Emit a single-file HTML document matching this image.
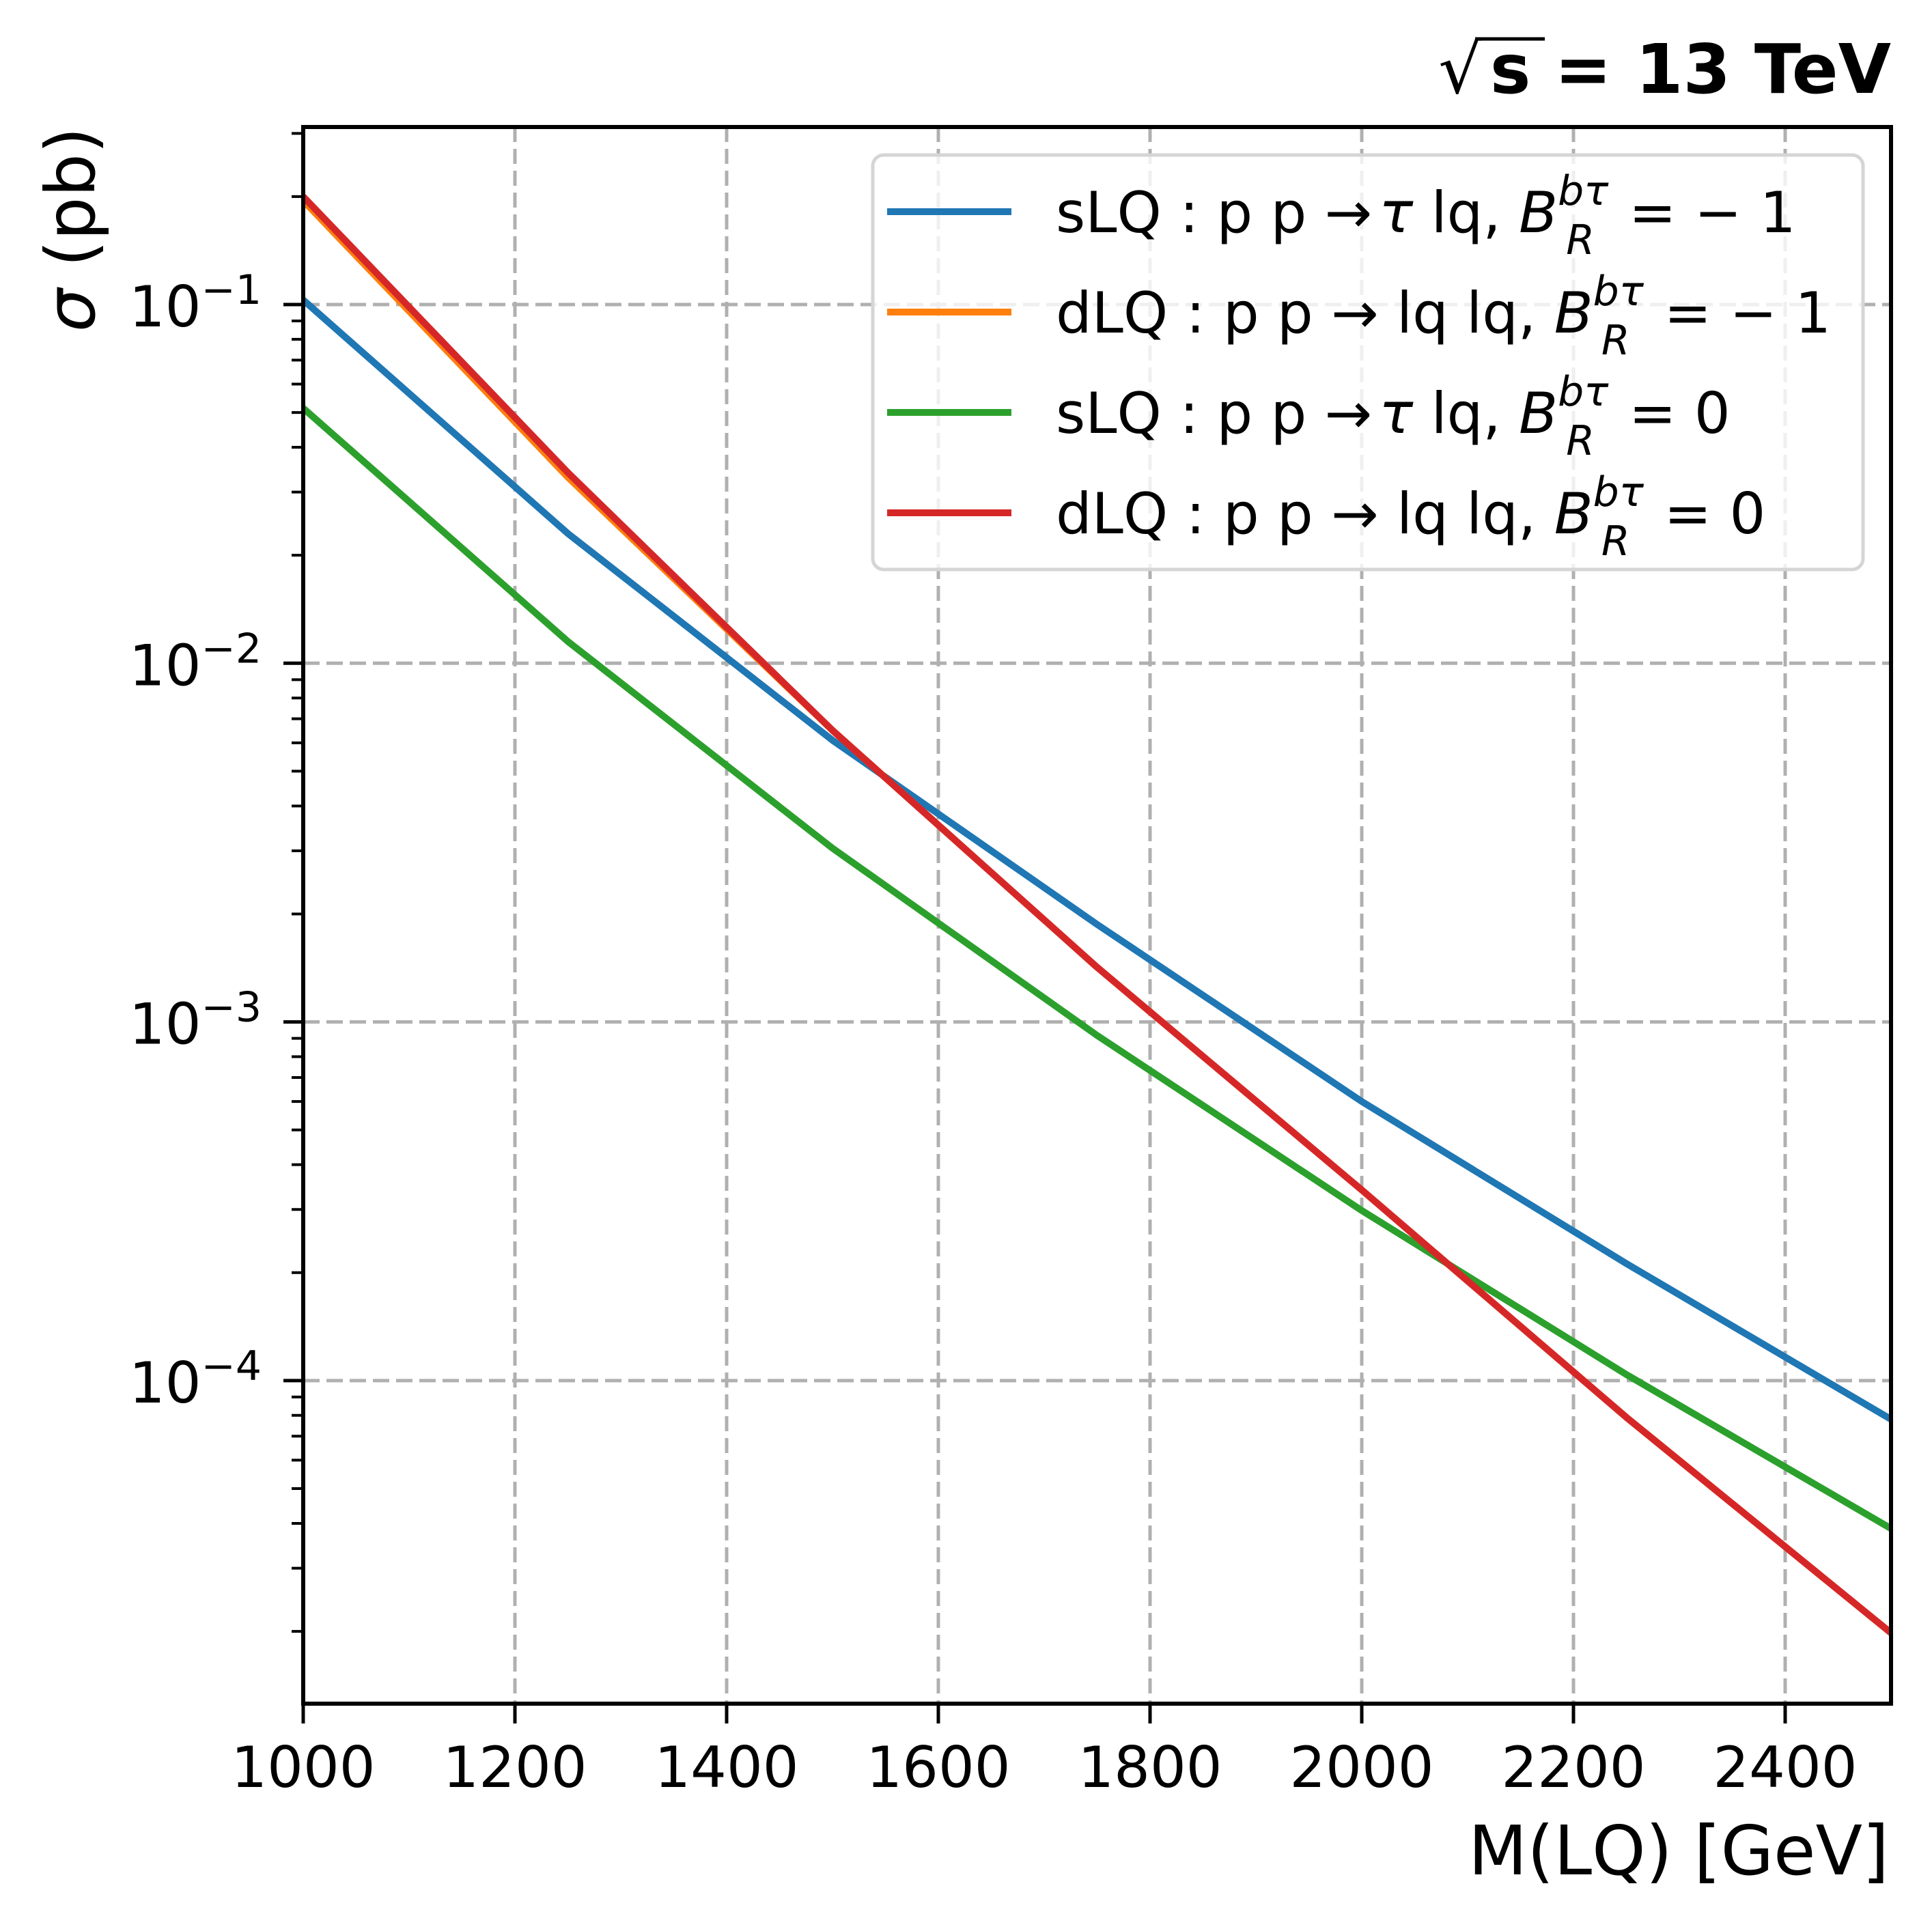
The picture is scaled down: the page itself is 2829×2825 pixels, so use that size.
<!DOCTYPE html>
<html><head><meta charset="utf-8"><style>
html,body{margin:0;padding:0;background:#fff;}
svg{display:block;font-family:"DejaVu Sans","Liberation Sans",sans-serif;}
</style></head><body>
<svg id="chart" width="2829" height="2825" viewBox="0 0 2829 2825" xmlns="http://www.w3.org/2000/svg">
<g id="grid"></g>
<g id="series"></g>
<g id="axes"></g>
<g id="legend">
  <rect x="1278" y="227" width="1450" height="607" rx="16" fill="#fff" fill-opacity="0.8" stroke="#d5d5d5" stroke-width="5"/>
</g>
<text x="2769" y="136" text-anchor="end" font-size="100" font-weight="bold"><tspan font-weight="normal">√</tspan><tspan dx="12">s</tspan> = 13 TeV</text>
<line x1="2160" y1="57" x2="2262" y2="57" stroke="#000" stroke-width="5"/>
<text x="2766" y="2745" text-anchor="end" font-size="100">M(LQ) [GeV]</text>
<text transform="translate(138,186) rotate(-90)" text-anchor="end" font-size="100"><tspan font-style="italic">σ</tspan> (pb)</text>
</svg>
<script>
const masses = [1000, 1250, 1500, 1750, 2000, 2250, 2500];
const sLQ_m1 = [0.103, 0.023, 0.0061, 0.00187, 0.0006, 0.000212, 0.000078];
const dLQ_m1 = [0.195, 0.033, 0.0065, 0.00142, 0.00034, 0.000079, 0.0000198];
const sLQ_0 = [0.0514, 0.0115, 0.00305, 0.000917, 0.000298, 0.000104, 0.0000387];
const dLQ_0 = [0.2, 0.034, 0.0065, 0.00142, 0.00034, 0.000079, 0.0000198];
const xTicks = [1000, 1200, 1400, 1600, 1800, 2000, 2200, 2400];
const yTickExps = [-1, -2, -3, -4];
const legendLabels = [
  ['sLQ : p p →', 'τ', ' lq, ', '= − 1'],
  ['dLQ : p p → lq lq, ', '', '', '= − 1'],
  ['sLQ : p p →', 'τ', ' lq, ', '= 0'],
  ['dLQ : p p → lq lq, ', '', '', '= 0']
];
const colors = ['#1f77b4', '#ff7f0e', '#2ca02c', '#d62728'];

const NS = 'http://www.w3.org/2000/svg';
const L = 444, R = 2769, T = 186, B = 2495;
const xMin = 1000, xMax = 2500;
const yRef = 446, decade = 525.3;
function xs(v){ return L + (v - xMin) / (xMax - xMin) * (R - L); }
function ys(v){ return yRef + (-1 - Math.log10(v)) * decade; }
function mk(tag, attrs, parent){
  const e = document.createElementNS(NS, tag);
  for (const k in attrs) e.setAttribute(k, attrs[k]);
  parent.appendChild(e);
  return e;
}
const grid = document.getElementById('grid');
const axes = document.getElementById('axes');
const series = document.getElementById('series');

xTicks.forEach(t => {
  const x = xs(t);
  if (t > xMin) {
    const g = mk('line', {x1:x, y1:T, x2:x, y2:B, stroke:'#b0b0b0', 'stroke-width':5, 'stroke-dasharray':'22,10'}, grid);
    
    
  }
  const tk = mk('line', {x1:x, y1:B, x2:x, y2:B+29, stroke:'#000', 'stroke-width':5}, axes);
  
  
  const lb = mk('text', {x:x, y:2617, 'text-anchor':'middle', 'font-size':83}, axes);
  lb.textContent = String(t);
  
  
});

yTickExps.forEach(e => {
  const y = ys(Math.pow(10, e));
  const g = mk('line', {x1:L, y1:y, x2:R, y2:y, stroke:'#b0b0b0', 'stroke-width':5, 'stroke-dasharray':'24,10'}, grid);
  
  
  const tk = mk('line', {x1:L-29, y1:y, x2:L, y2:y, stroke:'#000', 'stroke-width':5}, axes);
  
  
  const lb = mk('text', {x:383, y:y+32, 'text-anchor':'end', 'font-size':83}, axes);
  
  
  const t1 = mk('tspan', {}, lb); t1.textContent = '10';
  const t2 = mk('tspan', {dy:-33, 'font-size':60}, lb); t2.textContent = '−' + Math.abs(e);
});
for (let e = -5; e <= -1; e++) {
  for (let m = 2; m <= 9; m++) {
    const v = m * Math.pow(10, e);
    const y = ys(v);
    if (y < T || y > B) continue;
    const tk = mk('line', {x1:L-17, y1:y, x2:L, y2:y, stroke:'#000', 'stroke-width':4}, axes);
    
    
  }
}

const allSeries = [sLQ_m1, dLQ_m1, sLQ_0, dLQ_0];
const names = ['line-slq-b-minus1', 'line-dlq-b-minus1', 'line-slq-b-0', 'line-dlq-b-0'];
const clip = mk('clipPath', {id:'plotclip'}, document.getElementById('chart'));
mk('rect', {x:L, y:T, width:R-L, height:B-T}, clip);
allSeries.forEach((vals, i) => {
  const pts = vals.map((v, j) => xs(masses[j]).toFixed(1) + ',' + ys(v).toFixed(1)).join(' ');
  const pl = mk('polyline', {points:pts, fill:'none', stroke:colors[i], 'stroke-width':10, 'stroke-linejoin':'round', 'clip-path':'url(#plotclip)'}, series);
  
  
});

const frame = mk('rect', {x:L, y:T, width:R-L, height:B-T, fill:'none', stroke:'#000', 'stroke-width':6}, axes);



const legend = document.getElementById('legend');
legendLabels.forEach((lab, i) => {
  const y = 310 + i * 147;
  const ln = mk('line', {x1:1299, y1:y, x2:1481, y2:y, stroke:colors[i], 'stroke-width':10}, legend);
  
  
  const tx = mk('text', {x:1546, y:y+30, 'font-size':83}, legend);
  
  
  const a = mk('tspan', {}, tx); a.textContent = lab[0];
  if (lab[1]) { const b = mk('tspan', {'font-style':'italic', dx:10}, tx); b.textContent = lab[1]; }
  if (lab[2]) { const c = mk('tspan', {}, tx); c.textContent = lab[2]; }
  const d = mk('tspan', {'font-style':'italic'}, tx); d.textContent = 'B';
  const e1 = mk('tspan', {'font-style':'italic', 'font-size':60, dy:-40}, tx); e1.textContent = 'bτ';
  const e2 = mk('tspan', {'font-style':'italic', 'font-size':60, dy:72, dx:-62}, tx); e2.textContent = 'R';
  const f = mk('tspan', {dy:-32, dx:50}, tx); f.textContent = lab[3];
});
</script>
</body></html>
